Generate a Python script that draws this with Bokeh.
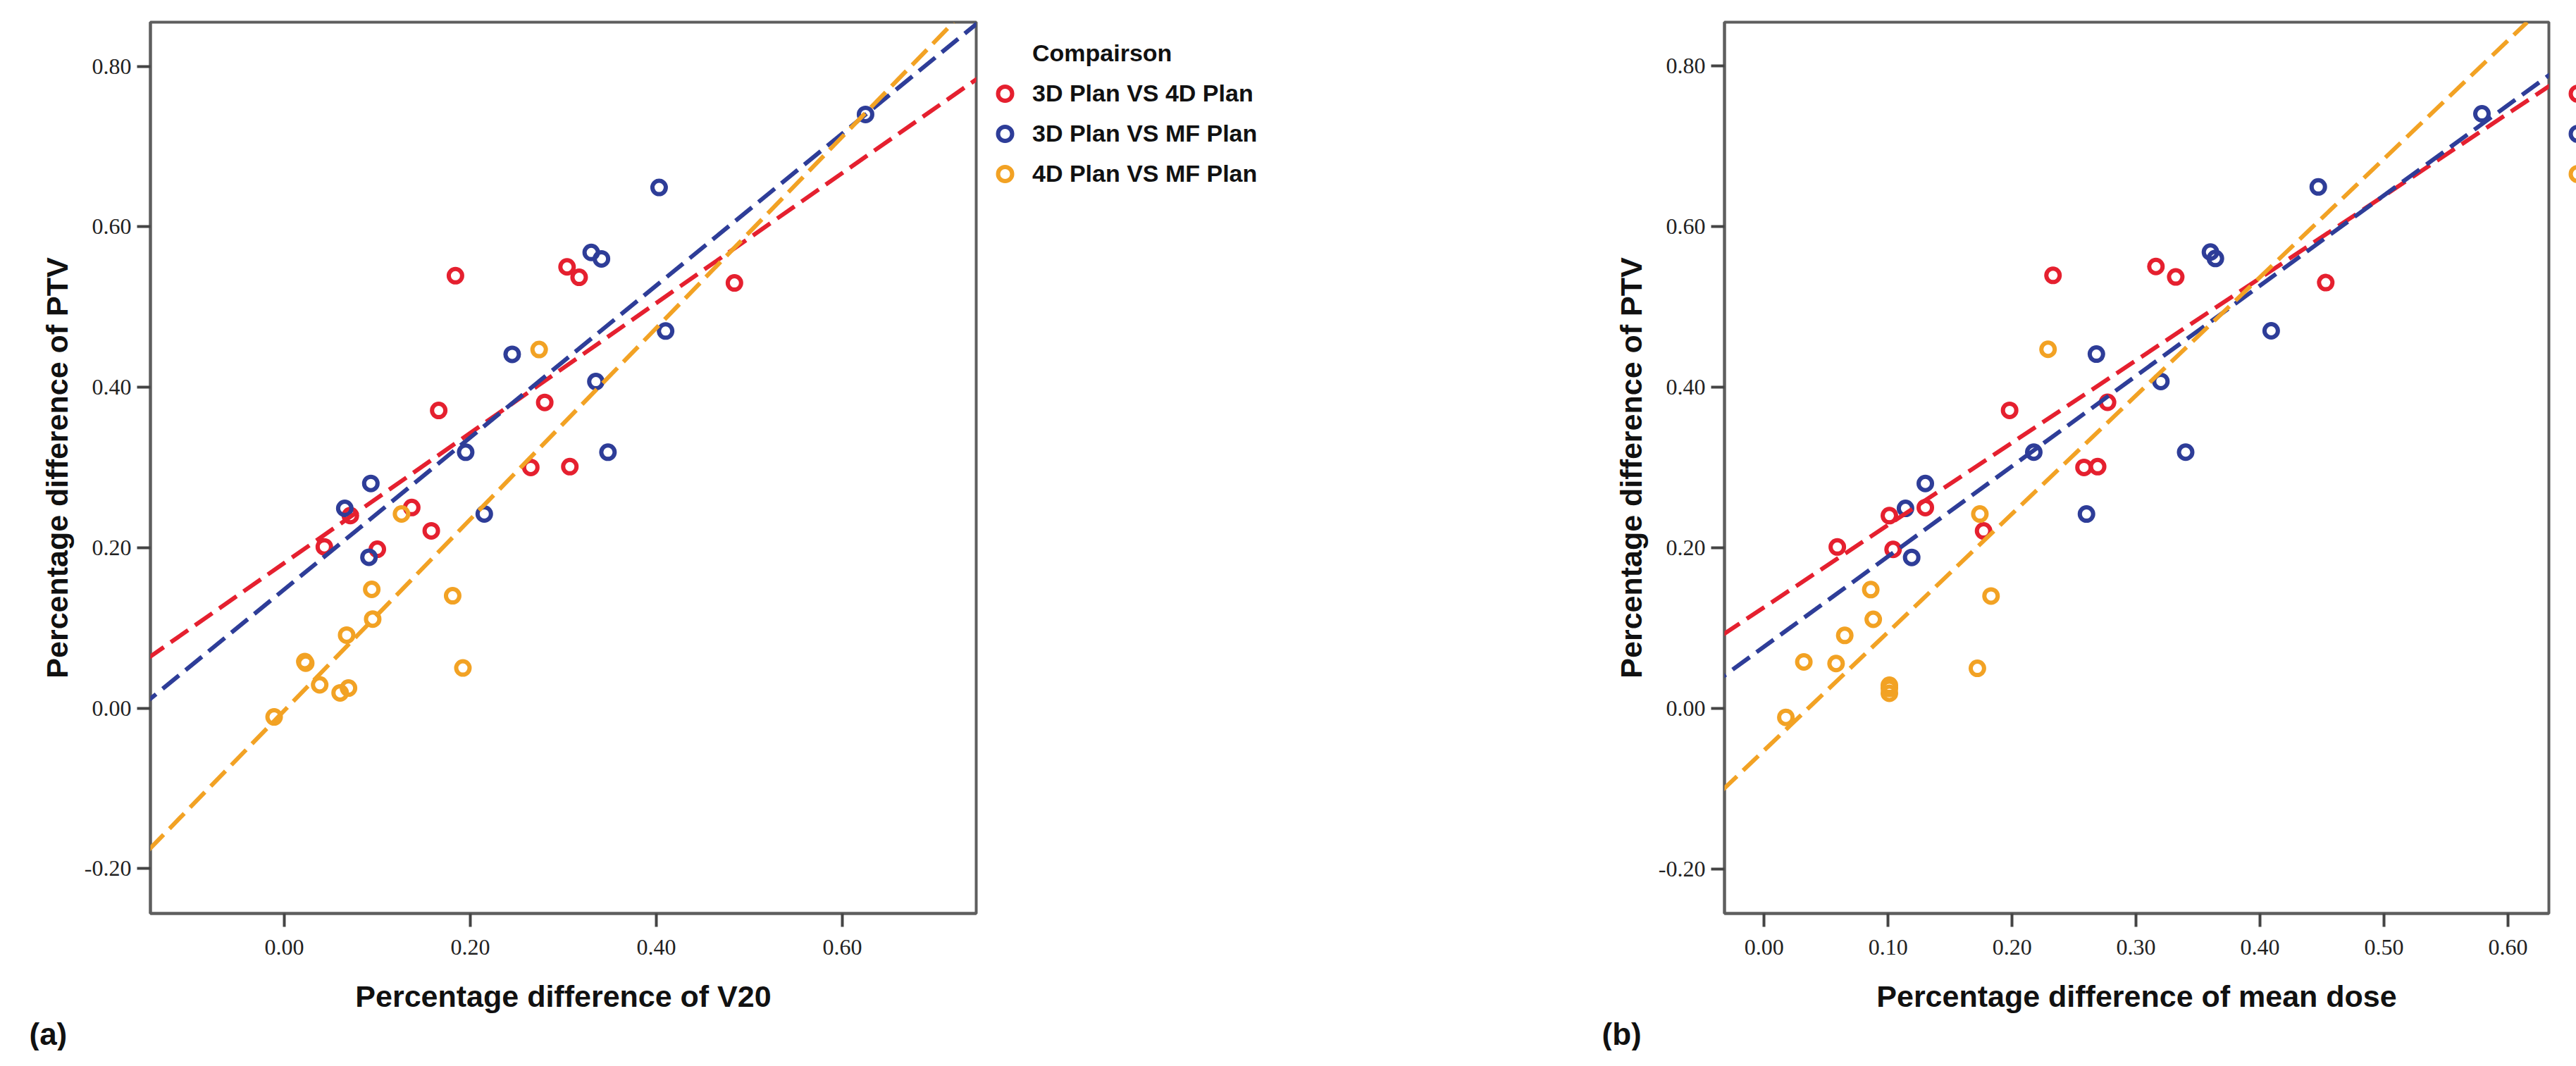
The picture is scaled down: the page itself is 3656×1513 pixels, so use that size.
from bokeh.plotting import figure
from bokeh.models import (Range1d, FixedTicker, PrintfTickFormatter, Slope,
                          Legend, LegendItem, Title, ColumnDataSource)
from bokeh.layouts import row
from bokeh.embed import file_html
from bokeh.resources import INLINE

# ---------------- data ----------------
series_names = ["3D Plan VS 4D Plan", "3D Plan VS MF Plan", "4D Plan VS MF Plan"]
series_colors = ["#E5202F", "#2E3D98", "#F2A224"]

# Percentage difference of PTV (shared by both panels)
ptv_3d_4d = [0.539, 0.550, 0.537, 0.371, 0.381, 0.300, 0.301, 0.250, 0.240, 0.201, 0.198, 0.221, 0.530]
ptv_3d_mf = [0.568, 0.560, 0.441, 0.407, 0.319, 0.319, 0.280, 0.249, 0.242, 0.188, 0.740, 0.649, 0.470]
ptv_4d_mf = [0.447, 0.242, 0.148, 0.140, 0.111, 0.091, 0.058, 0.056, 0.050, 0.029, 0.025, 0.019, -0.011]

# Panel (a): percentage difference of V20
v20_3d_4d = [0.184, 0.304, 0.317, 0.166, 0.280, 0.265, 0.307, 0.137, 0.071, 0.043, 0.100, 0.158, 0.484]
v20_3d_mf = [0.330, 0.341, 0.245, 0.335, 0.195, 0.348, 0.093, 0.065, 0.215, 0.091, 0.625, 0.403, 0.410]
v20_4d_mf = [0.274, 0.126, 0.094, 0.181, 0.095, 0.067, 0.022, 0.023, 0.192, 0.038, 0.069, 0.060, -0.011]

# Panel (b): percentage difference of mean dose
dose_3d_4d = [0.233, 0.316, 0.332, 0.198, 0.277, 0.258, 0.269, 0.130, 0.101, 0.059, 0.104, 0.177, 0.453]
dose_3d_mf = [0.360, 0.364, 0.268, 0.320, 0.2175, 0.340, 0.130, 0.114, 0.260, 0.119, 0.579, 0.447, 0.409]
dose_4d_mf = [0.229, 0.174, 0.086, 0.183, 0.088, 0.065, 0.032, 0.058, 0.172, 0.101, 0.101, 0.101, 0.0175]

# fitted regression lines
fit_a_slope = [0.810, 0.947, 1.192]
fit_a_intercept = [0.181, 0.148, -0.003]
fit_b_slope = [1.024, 1.123, 1.472]
fit_b_intercept = [0.126, 0.077, -0.052]

# axes
y_ticks = [-0.2, 0.0, 0.2, 0.4, 0.6, 0.8]
x_ticks_a = [0.0, 0.2, 0.4, 0.6]
x_ticks_b = [0.0, 0.1, 0.2, 0.3, 0.4, 0.5, 0.6]
x_range_a = (-0.144, 0.744)
x_range_b = (-0.032, 0.633)
y_range_a = (-0.256, 0.855)
y_range_b = (-0.255, 0.854)

legend_title = "Compairson"
y_title = "Percentage difference of PTV"
x_title_a = "Percentage difference of V20"
x_title_b = "Percentage difference of mean dose"
panel_tags = ["(a)", "(b)"]

FRAME = "#5E5E5E"
TICK_FONT = "Liberation Serif"
BOLD_FONT = "Liberation Sans"
FIG_H = 1490
FRAME_H = 1265


def make_panel(xs_list, ys_list, slopes, intercepts, xr, yr, xticks, xtitle,
               width, frame_w, border_left, tag, tag_offset):
    p = figure(width=width, height=FIG_H, frame_width=frame_w, frame_height=FRAME_H,
               output_backend="svg", toolbar_location=None,
               x_range=Range1d(*xr), y_range=Range1d(*yr),
               min_border_left=border_left, min_border_right=0,
               min_border_top=31, min_border_bottom=194)
    p.background_fill_color = "white"
    p.border_fill_color = "white"
    p.grid.visible = False
    p.outline_line_color = FRAME
    p.outline_line_width = 4

    for ax in (p.xaxis[0], p.yaxis[0]):
        ax.axis_line_color = FRAME
        ax.axis_line_width = 4
        ax.major_tick_line_color = "#444444"
        ax.major_tick_line_width = 4
        ax.major_tick_out = 19
        ax.major_tick_in = 0
        ax.minor_tick_line_color = None
        ax.major_label_text_font = TICK_FONT
        ax.major_label_text_font_size = "32px"
        ax.major_label_text_color = "#222222"
        ax.formatter = PrintfTickFormatter(format="%.2f")
        ax.axis_label_text_font = BOLD_FONT
        ax.axis_label_text_font_style = "bold"
        ax.axis_label_text_font_size = "43px"
        ax.axis_label_text_color = "#111111"

    p.xaxis[0].ticker = FixedTicker(ticks=xticks)
    p.yaxis[0].ticker = FixedTicker(ticks=y_ticks)
    p.xaxis[0].axis_label = xtitle
    p.xaxis[0].major_label_standoff = 18
    p.xaxis[0].axis_label_standoff = 32
    p.yaxis[0].axis_label = y_title
    p.yaxis[0].major_label_standoff = 8
    p.yaxis[0].axis_label_standoff = 12

    renderers = []
    for xs, ys, col in zip(xs_list, ys_list, series_colors):
        src = ColumnDataSource(data=dict(x=xs, y=ys))
        r = p.scatter("x", "y", source=src, size=19, marker="circle",
                      fill_color=None, line_color=col, line_width=6)
        renderers.append(r)

    for m, b, col in zip(slopes, intercepts, series_colors):
        p.add_layout(Slope(gradient=m, y_intercept=b, line_color=col,
                           line_width=6, line_dash="30 12"))

    # heading row of the legend: an entry without a visible key
    heading = p.scatter(x=[], y=[], size=1, marker="circle",
                        fill_alpha=0, line_alpha=0)
    items = [LegendItem(label=legend_title, renderers=[heading])]
    items += [LegendItem(label=n, renderers=[r])
              for n, r in zip(series_names, renderers)]

    legend = Legend(items=items, location="top_left", orientation="vertical",
                    glyph_width=50, glyph_height=57, spacing=0,
                    padding=16, margin=0, label_standoff=14,
                    label_text_font=BOLD_FONT, label_text_font_style="bold",
                    label_text_font_size="34px", label_text_color="#111111",
                    border_line_alpha=0, background_fill_alpha=0)
    p.add_layout(legend, "right")

    p.add_layout(Title(text=tag, align="left", offset=tag_offset,
                       text_font=BOLD_FONT, text_font_style="bold",
                       text_font_size="44px", text_color="#111111",
                       standoff=0), "below")
    return p


pa = make_panel([v20_3d_4d, v20_3d_mf, v20_4d_mf],
                [ptv_3d_4d, ptv_3d_mf, ptv_4d_mf],
                fit_a_slope, fit_a_intercept, x_range_a, y_range_a, x_ticks_a,
                x_title_a, 1860, 1172, 213, panel_tags[0], -172)

pb = make_panel([dose_3d_4d, dose_3d_mf, dose_4d_mf],
                [ptv_3d_4d, ptv_3d_mf, ptv_4d_mf],
                fit_b_slope, fit_b_intercept, x_range_b, y_range_b, x_ticks_b,
                x_title_b, 1780, 1170, 197, panel_tags[1], -174)

layout = row(pa, pb)
open("out.html", "w").write(file_html(layout, INLINE))
